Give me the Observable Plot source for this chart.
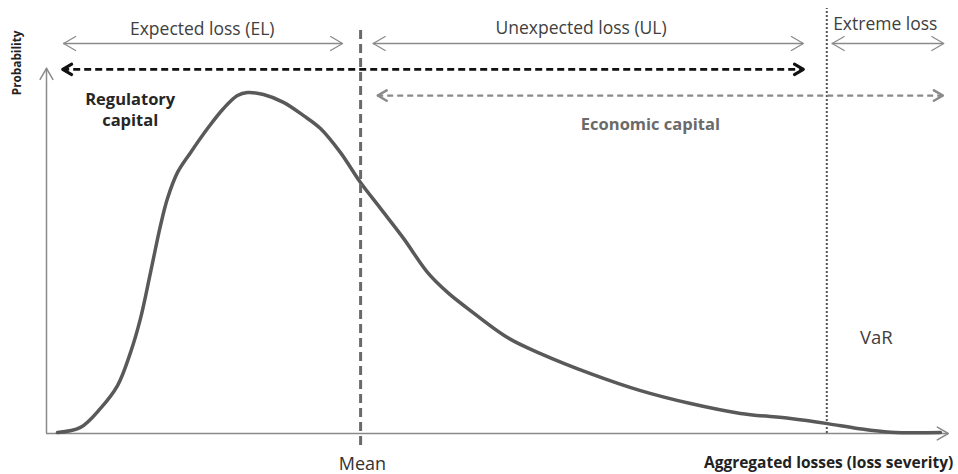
<!DOCTYPE html>
<html><head><meta charset="utf-8">
<script src="https://cdn.jsdelivr.net/npm/d3@7"></script>
<script src="https://cdn.jsdelivr.net/npm/@observablehq/plot@0.6"></script>
<style>body{margin:0;background:#fff} svg{display:block}</style>
</head><body><div id="chart"></div>
<script>
// ---- data (x: aggregated loss, 0..100 ; y: probability density, peak = 1) ----
const lossX   = [1.22,3.78,6.0,7.89,9.33,10.44,11.56,12.67,13.44,14.56,16.0,17.89,19.67,21.22,22.33,24.11,26.33,28.56,30.44,32.67,34.89,37.11,39.67,42.33,44.56,46.78,51.22,54.89,60.44,66.0,71.56,77.11,82.67,86.78,90.11,93.78,99.33];
const density = [0.003,0.018,0.074,0.141,0.238,0.338,0.474,0.612,0.691,0.768,0.826,0.897,0.956,0.994,1.003,0.997,0.974,0.935,0.897,0.826,0.738,0.662,0.574,0.474,0.415,0.368,0.282,0.235,0.176,0.126,0.088,0.059,0.044,0.029,0.015,0.004,0.003];
const meanLoss = 34.9;
const varLoss = 86.7;
const rangeLabels = ["Expected loss (EL)", "Unexpected loss (UL)", "Extreme loss"];
const rangeStart  = [1.9, 36.3, 87.3];
const rangeEnd    = [32.9, 84.1, 99.7];
const capitalLabels = ["Regulatory\ncapital", "Economic capital"];
const capitalStart  = [1.8, 36.8];
const capitalEnd    = [84.1, 99.6];

// ---- layout (annotation rows, in chart units) ----
const rangeRow = 1.147;
const capitalRow = [1.071, 0.994];
const yAxisTop = 1.074, xAxisEnd = 100.2;
const font = "Open Sans";

const curve = lossX.map((x, i) => ({x, y: density[i]}));
const ranges = rangeLabels.map((label, i) => ({label, x1: rangeStart[i], x2: rangeEnd[i], y: rangeRow}));
const capitals = capitalLabels.map((label, i) => ({label, x1: capitalStart[i], x2: capitalEnd[i], y: capitalRow[i]}));

const chevron = {draw(ctx, l, r) { const w = r * 0.58; ctx.moveTo(-w, r); ctx.lineTo(0, 0); ctx.lineTo(w, r); }};
const headsOf = (spans) => spans.flatMap(d => [{x: d.x1, y: d.y, rot: -90}, {x: d.x2, y: d.y, rot: 90}]);

const rangeText = ranges.map((d, i) => ({label: d.label, x: [17.3, 59.4, 93.2][i], y: [1.188, 1.191, 1.203][i]}));

const plot = Plot.plot({
  width: 958, height: 474,
  marginTop: 0, marginRight: 0, marginBottom: 0, marginLeft: 0,
  x: {domain: [0, 100], range: [46, 946], axis: null},
  y: {domain: [0, 1], range: [433, 93], axis: null},
  style: {background: "#fff", fontFamily: font},
  marks: [
    // axes
    Plot.ruleX([0], {y1: 0, y2: yAxisTop, stroke: "#8a8a8a", strokeWidth: 1.5}),
    Plot.ruleY([0], {x1: 0, x2: xAxisEnd, stroke: "#8a8a8a", strokeWidth: 1.5}),
    Plot.vector([{x: 0, y: yAxisTop, rot: 0}, {x: xAxisEnd, y: 0, rot: 90}], {x: "x", y: "y", rotate: "rot", length: 0, r: 11, shape: chevron, stroke: "#8a8a8a", strokeWidth: 1.5}),
    // VaR dotted & mean dashed
    Plot.ruleX([varLoss], {y1: 0, y2: 1.25, stroke: "#555", strokeWidth: 2, strokeDasharray: "2,2"}),
    // curve
    Plot.line(curve, {x: "x", y: "y", stroke: "#595959", strokeWidth: 3.5, curve: "catmull-rom"}),
    Plot.ruleX([meanLoss], {y1: -0.035, y2: 1.185, stroke: "#6a6a6a", strokeWidth: 3, strokeDasharray: "9,5"}),
    // range arrows (solid thin)
    Plot.ruleY(ranges, {y: "y", x1: "x1", x2: "x2", stroke: "#8a8a8a", strokeWidth: 1.3}),
    Plot.vector(headsOf(ranges), {x: "x", y: "y", rotate: "rot", length: 0, r: 12, shape: chevron, stroke: "#8a8a8a", strokeWidth: 1.3}),
    // capital arrows (dashed)
    Plot.ruleY([capitals[0]], {y: "y", x1: "x1", x2: "x2", stroke: "#111", strokeWidth: 2.8, strokeDasharray: "7,4"}),
    Plot.vector(headsOf([capitals[0]]), {x: "x", y: "y", rotate: "rot", length: 0, r: 9, shape: chevron, stroke: "#111", strokeWidth: 3}),
    Plot.ruleY([capitals[1]], {y: "y", x1: "x1", x2: "x2", stroke: "#8a8a8a", strokeWidth: 2.2, strokeDasharray: "6,4"}),
    Plot.vector(headsOf([capitals[1]]), {x: "x", y: "y", rotate: "rot", length: 0, r: 9, shape: chevron, stroke: "#8a8a8a", strokeWidth: 2.5}),
    // texts
    Plot.text(rangeText, {x: "x", y: "y", text: "label", fontSize: 17.5, fill: "#404040"}),
    Plot.text([capitals[0]], {x: 9.3, y: 0.956, text: "label", fontSize: 16.5, fontWeight: "bold", fill: "#262626", lineHeight: 1.3}),
    Plot.text([capitals[1]], {x: 67.1, y: 0.909, text: "label", fontSize: 16.5, fontWeight: "bold", fill: "#6a6a6a"}),
    Plot.text(["VaR"], {x: 92.2, y: 0.282, fontSize: 18.5, fill: "#404040"}),
    Plot.text(["Mean"], {x: 35.1, y: -0.091, fontSize: 18, fill: "#333"}),
    Plot.text(["Aggregated losses (loss severity)"], {x: 86.9, y: -0.088, fontSize: 15.5, fontWeight: "bold", fill: "#222"}),
    Plot.text(["Probability"], {x: -3.2, y: 1.09, rotate: -90, fontSize: 11.8, fontWeight: "bold", fill: "#222"})
  ]
});
document.getElementById("chart").appendChild(plot);
</script>
</body></html>
